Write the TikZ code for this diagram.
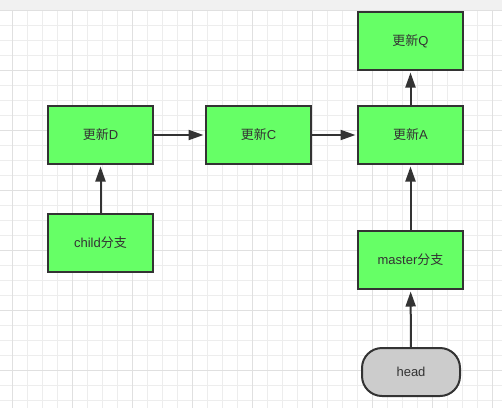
\documentclass[tikz,border=0pt]{standalone}
\usepackage{fontspec}
\setmainfont{Liberation Sans}
\newfontfamily\cjk{Noto Sans CJK SC}
\usetikzlibrary{arrows.meta}
\definecolor{boxgreen}{HTML}{66FF66}
\definecolor{headgrey}{HTML}{CCCCCC}
\definecolor{edgegrey}{HTML}{333333}
\definecolor{bandgrey}{HTML}{F1F1F1}
\definecolor{minorgrid}{HTML}{EDEDED}
\definecolor{majorgrid}{HTML}{E0E0E0}
\begin{document}
\begin{tikzpicture}[x=1pt,y=-1pt,
    commit/.style={draw=edgegrey, line width=2pt, fill=boxgreen, minimum width=105pt, minimum height=58pt, inner sep=0pt, text=edgegrey, font=\fontsize{13}{15}\selectfont},
    headbox/.style={commit, fill=headgrey, minimum width=98pt, minimum height=48pt, rounded corners=20pt},
    link/.style={draw=edgegrey, line width=2pt, shorten >=1.5pt, -{Triangle[length=15pt,width=10pt]}}]
  \useasboundingbox (0,0) rectangle (502,408);
  % grid background
  \fill[bandgrey] (0,0) rectangle (502,10);
  \foreach \x in {11.7,26.7,...,502} \draw[minorgrid] (\x,10) -- (\x,408);
  \foreach \y in {25,40,...,408} \draw[minorgrid] (0,\y) -- (502,\y);
  \foreach \x in {11.7,71.7,...,502} \draw[majorgrid] (\x,10) -- (\x,408);
  \foreach \y in {10,70,...,408} \draw[majorgrid] (0,\y) -- (502,\y);
  % commits
  \node[commit] (Q) at (410.5,41) {{\cjk 更新}Q};
  \node[commit] (D) at (100.5,135) {{\cjk 更新}D};
  \node[commit] (C) at (258.5,135) {{\cjk 更新}C};
  \node[commit] (A) at (410.5,135) {{\cjk 更新}A};
  \node[commit] (child) at (100.5,243) {child{\cjk 分支}};
  \node[commit] (master) at (410.5,260) {master{\cjk 分支}};
  \node[headbox] (head) at (411,372) {head};
  % links
  \draw[link] (D) -- (C);
  \draw[link] (C) -- (A);
  \draw[link] (A) -- (Q);
  \draw[link] (child) -- (D);
  \draw[link] (master) -- (A);
  \draw[link] (head) -- (master);
\end{tikzpicture}
\end{document}
